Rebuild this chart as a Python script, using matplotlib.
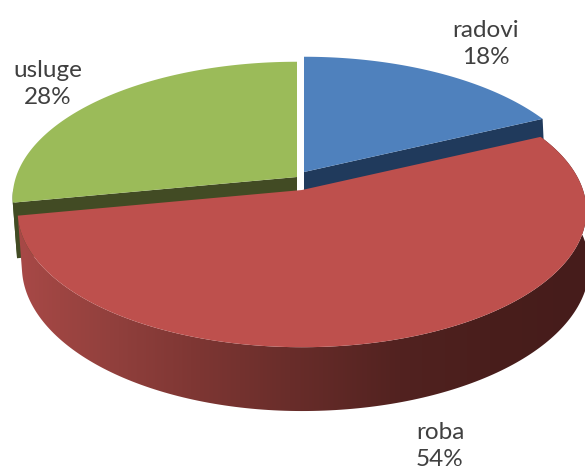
import numpy as np
import matplotlib
matplotlib.use('Agg')
import matplotlib.pyplot as plt
from matplotlib.patches import Polygon

categories = ['radovi', 'roba', 'usluge']
shares = [18, 54, 28]

top_colors = ['#4F81BD', '#BE504D', '#9BBB59']
cut_colors = ['#203A5C', '#4F1F1D', '#424B24']
green_rim = '#3F5A1E'
# each slice is pulled out a bit, so each has its own centre (pixels)
centres = [(304, 172), (302, 190), (297, 177)]
label_pos = [(486, 44), (440, 446), (48, 84)]

# projected circle
A = 281
B = 133
P = 0.154
DEPTH = 54
# the underside narrows on the left and runs slightly wider on the right
SCALE_LEFT = 0.985
SCALE_RIGHT = 1.01

# shading of the red rim, by pixel x
rim_x = [18, 60, 110, 200, 290, 400, 490, 585]
rim_r = [168, 158, 146, 125, 105, 82, 73, 70]
rim_g = [73, 69, 64, 54, 45, 34, 30, 28]
rim_b = [71, 66, 61, 51, 42, 32, 28, 27]


def project(theta, centre, down=0.0):
    k = 1 / (1 + P * np.cos(theta))
    s = np.sin(theta)
    scale = np.where(s < 0, SCALE_LEFT, SCALE_RIGHT) if down else 1.0
    x = centre[0] + A * s * k * scale
    y = centre[1] - B * np.cos(theta) * k + down * k
    return x, y


def arc(t0, t1, centre, down=0.0, n=200):
    return project(np.linspace(t0, t1, n), centre, down)


def draw_cut(ax, theta, centre, color):
    x0, y0 = project(theta, centre)
    x1, y1 = project(theta, centre, DEPTH)
    ax.fill([centre[0], x0, x1, centre[0]],
            [centre[1], y0, y1, centre[1] + DEPTH], color=color, lw=0)


edges = np.cumsum([0] + shares) / sum(shares) * 2 * np.pi

fig = plt.figure(figsize=(5.85, 4.73), dpi=100)
ax = fig.add_axes([0, 0, 1, 1])

# green rim on the left, mostly behind the red slice
t0, t1 = edges[2], edges[2] + np.radians(6)
x0, y0 = arc(t0, t1, centres[2])
x1, y1 = arc(t0, t1, centres[2], DEPTH)
ax.fill(np.r_[x0, x1[::-1]], np.r_[y0, y1[::-1]], color=green_rim, lw=0)

# cut faces behind the red slice
draw_cut(ax, edges[1], centres[0], cut_colors[0])
draw_cut(ax, edges[2], centres[2], cut_colors[2])

# red rim: a horizontal gradient clipped to the rim outline
xa, ya = arc(edges[1], edges[2], centres[1])
xb, yb = arc(edges[1], edges[2], centres[1], DEPTH)
rim_outline = Polygon(np.c_[np.r_[xa, xb[::-1]], np.r_[ya, yb[::-1]]],
                      closed=True, transform=ax.transData)
grid_x = np.arange(585) + 0.5
shade = np.dstack([np.interp(grid_x, rim_x, rim_r),
                   np.interp(grid_x, rim_x, rim_g),
                   np.interp(grid_x, rim_x, rim_b)]) / 255
im = ax.imshow(shade, extent=[0, 585, 473, 0], aspect='auto',
               interpolation='bilinear', zorder=1.5)
im.set_clip_path(rim_outline)

for i in range(len(shares)):
    t0, t1 = edges[i], edges[i + 1]
    x, y = arc(t0, t1, centres[i])
    ax.fill(np.r_[centres[i][0], x], np.r_[centres[i][1], y],
            color=top_colors[i], lw=0, zorder=2)

for name, share, pos in zip(categories, shares, label_pos):
    ax.text(pos[0], pos[1], f'{name}\n{share}%', ha='center', va='center',
            family='Lato', fontsize=17.5, color='#404040', linespacing=1.36,
            zorder=3)

ax.set_xlim(0, 585)
ax.set_ylim(473, 0)
ax.axis('off')

fig.savefig('out.png', dpi=100)
